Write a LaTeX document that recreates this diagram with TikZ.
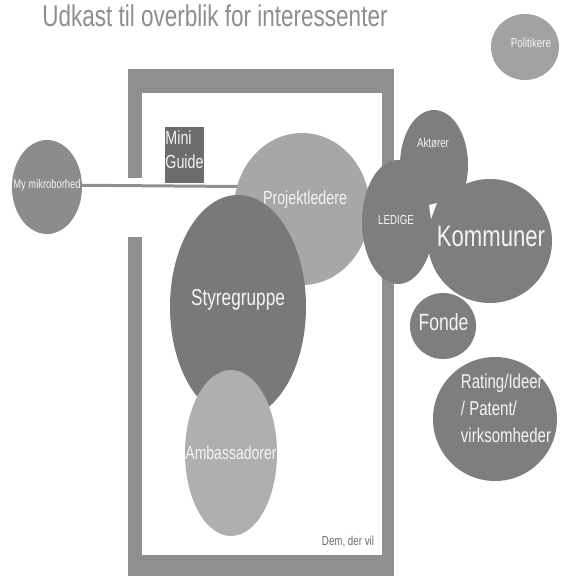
\documentclass[tikz,border=0pt]{standalone}
\usepackage{fontspec}
\setmainfont[FakeStretch=0.75]{Liberation Sans}
\usetikzlibrary{shapes.geometric,backgrounds}
\newcommand{\fsz}[1]{\fontsize{#1}{#1}\selectfont}
\definecolor{clus}{HTML}{7E7E7E}
\definecolor{styc}{HTML}{797979}
\definecolor{projc}{HTML}{A7A7A7}
\definecolor{ambc}{HTML}{AFAFAF}
\definecolor{polc}{HTML}{A2A2A2}
\definecolor{mikc}{HTML}{8C8C8C}
\definecolor{framec}{HTML}{8F8F8F}
\definecolor{minic}{HTML}{6C6C6C}
\definecolor{titc}{HTML}{8E8E8E}
\definecolor{txtw}{HTML}{F4F4F4}
\definecolor{demc}{HTML}{6A6A6A}
\begin{document}
\begin{tikzpicture}[x=1pt,y=-1pt,
  blob/.style={ellipse,draw=none,inner sep=0pt},
  lbl/.style={inner sep=0pt,text=txtw}]
\useasboundingbox (0,0) rectangle (566,576);
% title
\node[text=titc,font=\fsz{30}] (title) at (215,16) {Udkast til overblik for interessenter};
% nodes
\node[blob,fill=polc,minimum width=68pt,minimum height=66pt] (pol) at (525,47) {};
\node[lbl,font=\fsz{13}] (poltxt) at (531,43) {Politikere};
\node[blob,fill=mikc,minimum width=70pt,minimum height=94pt] (mik) at (47,187) {};
\node[lbl,font=\fsz{12.5}] (miktxt) at (47,185) {My mikroborhed};
\node[fill=minic,draw=none,minimum width=39pt,minimum height=56pt,inner sep=0pt] (mini) at (184.5,155) {};
\node[lbl,align=left,font=\fsz{19}] (minitxt) at (184.5,150) {Mini\\[5pt]Guide};
\node[blob,fill=projc,minimum width=136pt,minimum height=152pt] (proj) at (302,209) {};
\node[lbl,font=\fsz{19}] (projtxt) at (305,200) {Projektledere};
\node[blob,fill=styc,minimum width=136pt,minimum height=224pt] (sty) at (238,307) {};
\node[lbl,font=\fsz{23}] (stytxt) at (238,300) {Styregruppe};
\node[blob,fill=ambc,minimum width=92pt,minimum height=166pt] (amb) at (231,453) {};
\node[lbl,font=\fsz{18.7}] (ambtxt) at (231,453) {Ambassadorer};
% right cluster
\node[blob,fill=clus,minimum width=68pt,minimum height=110pt] (akt) at (434,165) {};
\node[lbl,font=\fsz{13}] (akttxt) at (433,143) {Aktører};
\node[blob,fill=clus,minimum width=72pt,minimum height=124pt] (led) at (398,222) {};
\node[lbl,font=\fsz{13}] (ledtxt) at (396,220) {LEDIGE};
\node[blob,fill=clus,minimum width=124pt,minimum height=124pt] (kom) at (490,241) {};
\node[lbl,font=\fsz{29.5}] (komtxt) at (491,236) {Kommuner};
\fill[white] (429,205) -- (437,203) -- (431,219) -- cycle;
\node[blob,fill=clus,minimum width=66pt,minimum height=66pt] (fon) at (443,326) {};
\node[lbl,font=\fsz{23.5}] (fontxt) at (443.5,322) {Fonde};
\node[blob,fill=clus,minimum width=124pt,minimum height=124pt] (rat) at (495,419) {};
\node[lbl,align=left,font=\fontsize{20}{27}\selectfont] (rattxt) at (506,408) {Rating/Ideer\\/ Patent/\\virksomheder};
\node[inner sep=0pt,text=demc,font=\fsz{13}] (dem) at (348,542) {Dem, der vil};
% background: frame and connector
\begin{scope}[on background layer]
\fill[white] (0,0) rectangle (566,576);
\fill[framec] (128,69) rectangle (394,93);
\fill[framec] (128,69) rectangle (142,178);
\fill[framec] (128,237) rectangle (142,576);
\fill[framec] (382,69) rectangle (394,576);
\fill[framec] (128,555) rectangle (394,576);
\draw[framec,line width=3pt] (mik.center) ++(0,-2) -- (mik.center -| proj.center) ++(0,-2);
\end{scope}
\end{tikzpicture}
\end{document}
